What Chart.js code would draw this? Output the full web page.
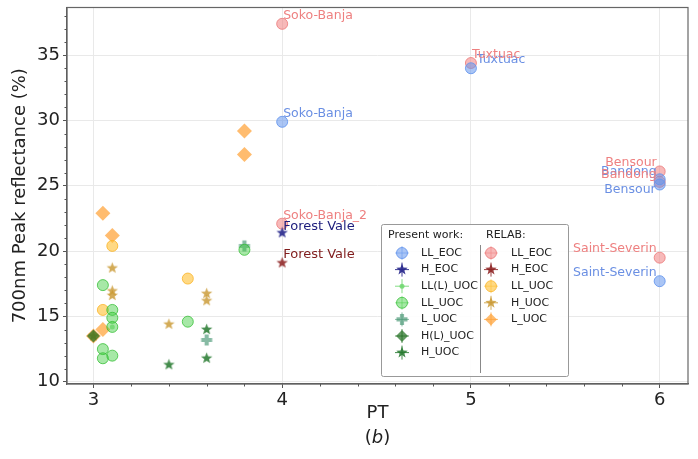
<!DOCTYPE html>
<html>
<head>
<meta charset="utf-8">
<script src="https://cdn.jsdelivr.net/npm/chart.js@4"></script>
<style>
  html, body { margin: 0; padding: 0; background: #fff; }
  #wrap { width: 698px; height: 459px; }
</style>
</head>
<body>
<div id="wrap"><canvas id="chart" width="698" height="459"></canvas></div>
<script>
// ---- data: present work ----
const pwLLEOC_x = [4, 5, 6, 6, 6];
const pwLLEOC_y = [29.9, 34.0, 25.5, 25.1, 17.7];
const pwLLEOC_names = ["Soko-Banja", "Tuxtuac", "Bandong", "Bensour", "Saint-Severin"];
const pwHEOC_x = [4];
const pwHEOC_y = [21.4];
const pwHEOC_names = ["Forest Vale"];
const pwLLLUOC_x = [3.1];
const pwLLLUOC_y = [14.2];
const pwLLUOC_x = [3.05, 3.1, 3.1, 3.1, 3.05, 3.05, 3.1, 3.5, 3.8];
const pwLLUOC_y = [17.4, 15.5, 14.9, 14.2, 12.5, 11.8, 12.0, 14.6, 20.1];
const pwLUOC_x = [3.6, 3.8];
const pwLUOC_y = [13.2, 20.4];
const pwHLUOC_x = [3.0];
const pwHLUOC_y = [13.5];
const pwHUOC_x = [3.4, 3.6, 3.6];
const pwHUOC_y = [11.3, 14.0, 11.8];

// ---- data: RELAB ----
const relLLEOC_x = [4, 5, 4, 6, 6, 6];
const relLLEOC_y = [37.4, 34.4, 22.1, 26.1, 25.3, 19.5];
const relLLEOC_names = ["Soko-Banja", "Tuxtuac", "Soko-Banja_2", "Bensour", "Bandong", "Saint-Severin"];
const relHEOC_x = [4];
const relHEOC_y = [19.1];
const relHEOC_names = ["Forest Vale"];
const relLLUOC_x = [3.1, 3.05, 3.5];
const relLLUOC_y = [20.4, 15.5, 17.9];
const relHUOC_x = [3.1, 3.1, 3.1, 3.4, 3.6, 3.6, 3.0];
const relHUOC_y = [18.7, 16.95, 16.6, 14.4, 16.75, 16.2, 13.5];
const relLUOC_x = [3.05, 3.1, 3.05, 3.0, 3.8, 3.8];
const relLUOC_y = [22.9, 21.2, 14.0, 13.5, 29.2, 27.4];

const xTicks = [3, 4, 5, 6];
const yTicks = [10, 15, 20, 25, 30, 35];

// label placement in pixels relative to the point: [dx, dy, align]
const labelPos = {
  pwLLEOC: [[1, -8, "left"], [6, -8, "left"], [-3, -8, "right"], [-4, 5, "right"], [-3, -8, "right"]],
  pwHEOC: [[1, -6, "left"]],
  relLLEOC: [[1, -8, "left"], [1, -8, "left"], [1, -8, "left"], [-3, -9, "right"], [-3, -7, "right"], [-3, -9, "right"]],
  relHEOC: [[1, -8, "left"]]
};

function pts(xs, ys) {
  return xs.map((x, i) => ({ x: x, y: ys[i] }));
}

function shapePath(g, shape, x, y, r) {
  g.beginPath();
  if (shape === "circle" || shape === "dot") {
    g.arc(x, y, r, 0, Math.PI * 2);
  } else if (shape === "diamond") {
    g.moveTo(x, y - r); g.lineTo(x + r, y); g.lineTo(x, y + r); g.lineTo(x - r, y);
  } else if (shape === "star") {
    for (let i = 0; i < 10; i++) {
      const a = -Math.PI / 2 + i * Math.PI / 5;
      const rr = i % 2 ? r * 0.42 : r;
      g.lineTo(x + Math.cos(a) * rr, y + Math.sin(a) * rr);
    }
  } else if (shape === "plus") {
    const w = r * 0.38;
    g.moveTo(x - w, y - r); g.lineTo(x + w, y - r); g.lineTo(x + w, y - w); g.lineTo(x + r, y - w);
    g.lineTo(x + r, y + w); g.lineTo(x + w, y + w); g.lineTo(x + w, y + r); g.lineTo(x - w, y + r);
    g.lineTo(x - w, y + w); g.lineTo(x - r, y + w); g.lineTo(x - r, y - w); g.lineTo(x - w, y - w);
  }
  g.closePath();
}

function drawShape(g, shape, x, y, r, fill, stroke) {
  shapePath(g, shape, x, y, r);
  g.fillStyle = fill;
  g.fill();
  if (stroke) { g.strokeStyle = stroke; g.lineWidth = 1; g.stroke(); }
}

function markerCanvas(shape, r, fill, stroke) {
  const s = Math.ceil(r * 2 + 3);
  const c = document.createElement("canvas");
  c.width = s; c.height = s;
  drawShape(c.getContext("2d"), shape, s / 2, s / 2, r, fill, stroke);
  return c;
}

function series(key, label, group, xs, ys, shape, r, fill, stroke, names, textColor) {
  const style = (shape === "circle" || shape === "dot") ? "circle" : shape === "diamond" ? "rectRot" : markerCanvas(shape, r, fill, stroke);
  return {
    key: key, label: label, group: group, shape: shape, size: r, fill: fill, stroke: stroke,
    names: names || null, textColor: textColor || null,
    data: pts(xs, ys),
    pointStyle: style,
    pointRadius: r,
    pointHoverRadius: r,
    backgroundColor: fill,
    borderColor: stroke || fill,
    borderWidth: stroke ? 1 : 0
  };
}

const datasets = [
  series("pwLLEOC", "LL_EOC", "pw", pwLLEOC_x, pwLLEOC_y, "circle", 5.5, "rgba(100,149,237,0.55)", "rgba(100,149,237,0.85)", pwLLEOC_names, "#6a8fe3"),
  series("pwHEOC", "H_EOC", "pw", pwHEOC_x, pwHEOC_y, "star", 6, "rgba(40,40,140,0.9)", null, pwHEOC_names, "#1c1c7c"),
  series("pwLLLUOC", "LL(L)_UOC", "pw", pwLLLUOC_x, pwLLLUOC_y, "dot", 2.5, "rgba(110,215,110,0.85)", null),
  series("pwLLUOC", "LL_UOC", "pw", pwLLUOC_x, pwLLUOC_y, "circle", 5.5, "rgba(60,205,60,0.45)", "rgba(50,190,50,0.75)"),
  series("pwLUOC", "L_UOC", "pw", pwLUOC_x, pwLUOC_y, "plus", 5.5, "rgba(70,150,115,0.65)", null),
  series("pwHLUOC", "H(L)_UOC", "pw", pwHLUOC_x, pwHLUOC_y, "diamond", 6.5, "rgba(30,110,30,0.7)", null),
  series("pwHUOC", "H_UOC", "pw", pwHUOC_x, pwHUOC_y, "star", 6, "rgba(35,120,45,0.85)", null),
  series("relLLEOC", "LL_EOC", "rel", relLLEOC_x, relLLEOC_y, "circle", 5.5, "rgba(240,128,128,0.55)", "rgba(235,120,120,0.8)", relLLEOC_names, "#ee8080"),
  series("relHEOC", "H_EOC", "rel", relHEOC_x, relHEOC_y, "star", 6, "rgba(140,30,30,0.85)", null, relHEOC_names, "#801c1c"),
  series("relLLUOC", "LL_UOC", "rel", relLLUOC_x, relLLUOC_y, "circle", 5.5, "rgba(255,192,50,0.6)", "rgba(250,180,40,0.8)"),
  series("relHUOC", "H_UOC", "rel", relHUOC_x, relHUOC_y, "star", 6, "rgba(200,150,45,0.8)", null),
  series("relLUOC", "L_UOC", "rel", relLUOC_x, relLUOC_y, "diamond", 7.5, "rgba(255,160,50,0.7)", null)
];

const FONT = "'DejaVu Sans', sans-serif";

const extras = {
  id: "extras",
  afterDatasetsDraw(chart) {
    const ctx = chart.ctx;
    const a = chart.chartArea;
    const xs = chart.scales.x, ys = chart.scales.y;

    // frame
    ctx.save();
    ctx.strokeStyle = "#666";
    ctx.lineWidth = 1.2;
    ctx.strokeRect(a.left, a.top, a.right - a.left, a.bottom - a.top);

    // minor ticks
    ctx.strokeStyle = "#555";
    ctx.lineWidth = 1;
    ctx.beginPath();
    for (let v = 2.8; v <= xs.max + 1e-9; v += 0.2) {
      const r = Math.round(v * 10) / 10;
      if (r < xs.min || Number.isInteger(r)) continue;
      const px = Math.round(xs.getPixelForValue(r)) + 0.5;
      ctx.moveTo(px, a.bottom); ctx.lineTo(px, a.bottom + 2.5);
    }
    for (let v = Math.ceil(ys.min); v <= ys.max; v++) {
      if (v % 5 === 0) continue;
      const py = Math.round(ys.getPixelForValue(v)) + 0.5;
      ctx.moveTo(a.left, py); ctx.lineTo(a.left - 2.5, py);
    }
    ctx.stroke();

    // point labels
    chart.data.datasets.forEach((d, di) => {
      if (!d.names) return;
      const meta = chart.getDatasetMeta(di);
      const big = d.key.indexOf("HEOC") >= 0;
      ctx.font = (big ? "13px " : "12.5px ") + FONT;
      ctx.fillStyle = d.textColor;
      ctx.textBaseline = "middle";
      d.names.forEach((n, i) => {
        const el = meta.data[i];
        const p = labelPos[d.key][i];
        ctx.textAlign = p[2];
        ctx.fillText(n, el.x + p[0], el.y + p[1]);
      });
    });

    // legend box
    const bx = 381, by = 224, bw = 187, bh = 152;
    ctx.fillStyle = "rgba(255,255,255,0.9)";
    ctx.strokeStyle = "#999";
    ctx.lineWidth = 1;
    ctx.beginPath();
    ctx.roundRect(bx + 0.5, by + 0.5, bw, bh, 2);
    ctx.fill(); ctx.stroke();
    ctx.strokeStyle = "#888";
    ctx.beginPath();
    ctx.moveTo(480.5, 245); ctx.lineTo(480.5, 373);
    ctx.stroke();

    ctx.font = "11px " + FONT;
    ctx.fillStyle = "#222";
    ctx.textAlign = "left";
    ctx.textBaseline = "middle";
    ctx.fillText("Present work:", 388, 235);
    ctx.fillText("RELAB:", 486, 235);

    const cols = { pw: { mx: 402, tx: 421, y0: 253, k: 0 }, rel: { mx: 491, tx: 511, y0: 253, k: 0 } };
    chart.data.datasets.forEach(d => {
      const c = cols[d.group];
      const y = c.y0 + c.k * 16.6;
      c.k++;
      ctx.strokeStyle = d.fill;
      ctx.lineWidth = 1;
      ctx.beginPath();
      ctx.moveTo(c.mx - 7, y); ctx.lineTo(c.mx + 7, y);
      ctx.moveTo(c.mx, y - 7); ctx.lineTo(c.mx, y + 7);
      ctx.stroke();
      drawShape(ctx, d.shape, c.mx, y, Math.min(d.size, 6), d.fill, d.stroke);
      ctx.fillStyle = "#222";
      ctx.fillText(d.label, c.tx, y);
    });

    // sub-caption (b)
    const cx = (a.left + a.right) / 2, cy = 438;
    ctx.font = "18px " + FONT;
    const w1 = ctx.measureText("(").width;
    ctx.font = "italic 18px " + FONT;
    const w2 = ctx.measureText("b").width;
    ctx.font = "18px " + FONT;
    const w3 = ctx.measureText(")").width;
    let sx = cx - (w1 + w2 + w3) / 2;
    ctx.fillStyle = "#222";
    ctx.fillText("(", sx, cy);
    ctx.font = "italic 18px " + FONT;
    ctx.fillText("b", sx + w1, cy);
    ctx.font = "18px " + FONT;
    ctx.fillText(")", sx + w1 + w2, cy);
    ctx.restore();
  }
};

new Chart(document.getElementById("chart"), {
  type: "scatter",
  data: { datasets: datasets },
  plugins: [extras],
  options: {
    responsive: false,
    animation: false,
    layout: { padding: { top: 6, right: 10, bottom: 0, left: 0 } },
    plugins: { legend: { display: false }, tooltip: { enabled: false } },
    scales: {
      x: {
        type: "linear",
        min: 2.86,
        max: 6.15,
        afterFit: s => { s.height = 75; s.paddingLeft = 0; s.paddingRight = 0; },
        afterBuildTicks: s => { s.ticks = xTicks.map(v => ({ value: v })); },
        ticks: { font: { family: FONT, size: 18 }, color: "#222", padding: 2 },
        grid: { color: "#e9e9e9", tickColor: "#555", tickLength: 4 },
        border: { color: "#555", width: 1.2 },
        title: { display: true, text: "PT", font: { family: FONT, size: 18 }, color: "#222", padding: { top: 0, bottom: 35 } }
      },
      y: {
        type: "linear",
        min: 9.83,
        max: 38.65,
        afterFit: s => { s.width = 67; s.paddingTop = 0; s.paddingBottom = 0; },
        afterBuildTicks: s => { s.ticks = yTicks.map(v => ({ value: v })); },
        ticks: { font: { family: FONT, size: 18 }, color: "#222", padding: 3 },
        grid: { color: "#e9e9e9", tickColor: "#555", tickLength: 4 },
        border: { color: "#555", width: 1.2 },
        title: { display: true, text: "700nm Peak reflectance (%)", font: { family: FONT, size: 18 }, color: "#222", padding: { top: 10, bottom: 0 } }
      }
    }
  }
});
</script>
</body>
</html>
